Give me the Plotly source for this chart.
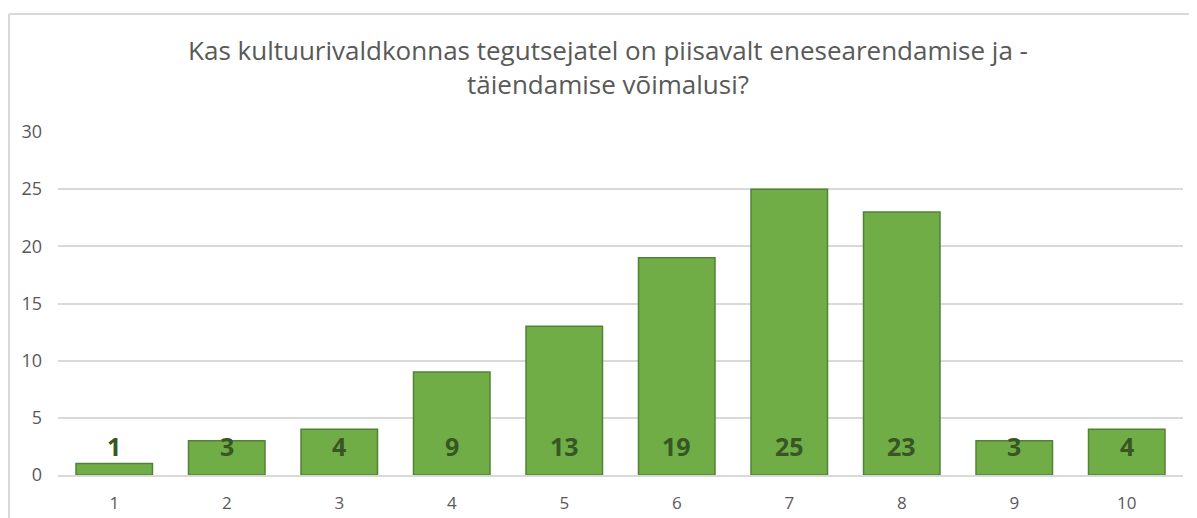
import plotly.graph_objects as go

# survey answers, scale 1..10
categories = [1, 2, 3, 4, 5, 6, 7, 8, 9, 10]
counts = [1, 3, 4, 9, 13, 19, 25, 23, 3, 4]

title_text = 'Kas kultuurivaldkonnas tegutsejatel on piisavalt enesearendamise ja -<br>täiendamise võimalusi?'

# page body has an 8px margin, so the figure is a bit smaller than the window
W, H = 1189, 510
L, R, T, B = 50, 14, 124, 43
pw, ph = W - L - R, H - T - B

fig = go.Figure()

fig.add_trace(go.Bar(
    x=categories,
    y=counts,
    marker=dict(color='#70ad47', line=dict(color='#548235', width=1.5)),
    width=0.68,
    hoverinfo='x+y',
))

# data labels sit at the base of each bar (Excel "inside base")
for c, v in zip(categories, counts):
    fig.add_annotation(
        x=c, y=0, text=f'<b>{v}</b>', showarrow=False,
        yanchor='middle', yshift=29,
        font=dict(family='Open Sans, sans-serif', size=25, color='#375623'),
    )

# chart border (left + top edges visible in the crop)
bx = (1 - L) / pw
by = (H - B - 6) / ph
fig.add_shape(type='line', xref='paper', yref='paper',
              x0=bx, x1=bx, y0=by, y1=-B / ph,
              line=dict(color='#d9d9d9', width=2))
fig.add_shape(type='line', xref='paper', yref='paper',
              x0=bx, x1=(W - L) / pw, y0=by, y1=by,
              line=dict(color='#d9d9d9', width=2))

fig.update_layout(
    width=W, height=H,
    margin=dict(l=L, r=R, t=T, b=B, autoexpand=False),
    paper_bgcolor='white', plot_bgcolor='white',
    showlegend=False,
    title=dict(text=title_text, x=(600 - L) / pw, xanchor='center', xref='paper',
               y=1 - 52 / H, yanchor='middle', automargin=False,
               font=dict(family='Open Sans, sans-serif', size=26, color='#595959')),
    font=dict(family='Open Sans, sans-serif', size=18, color='#595959'),
    xaxis=dict(range=[0.5, 10.5], tickvals=categories, ticktext=[str(c) for c in categories],
               showgrid=False, zeroline=False, showline=True, linecolor='#d9d9d9',
               linewidth=1.5, ticks='', ticklabelstandoff=12, automargin=False,
               tickfont=dict(size=17, color='#595959')),
    yaxis=dict(range=[0, 30], dtick=5, showgrid=True, gridcolor='#d9d9d9', gridwidth=1.5,
               zeroline=False, showline=False, ticks='', ticklabelstandoff=15, automargin=False,
               tickfont=dict(size=18, color='#595959')),
)

fig.write_html("out.html")
